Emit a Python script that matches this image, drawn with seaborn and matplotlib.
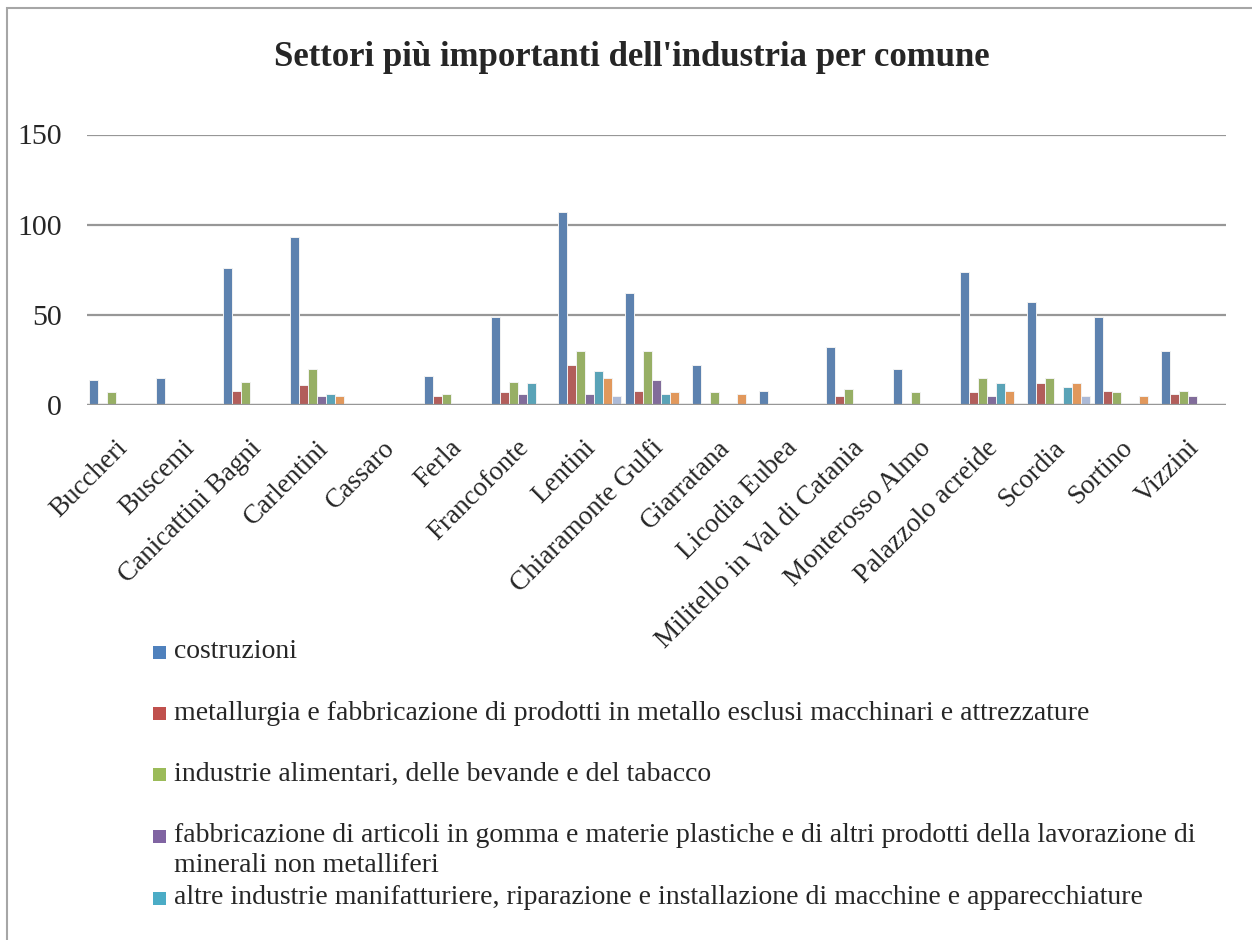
import numpy as np
import pandas as pd
import matplotlib
matplotlib.use("Agg")
import matplotlib.pyplot as plt
from matplotlib.patches import Rectangle
from matplotlib.transforms import ScaledTranslation
import seaborn as sns

# --- data -------------------------------------------------------------
comuni = [
    "Buccheri", "Buscemi", "Canicattini Bagni", "Carlentini", "Cassaro",
    "Ferla", "Francofonte", "Lentini", "Chiaramonte Gulfi", "Giarratana",
    "Licodia Eubea", "Militello in Val di Catania", "Monterosso Almo",
    "Palazzolo acreide", "Scordia", "Sortino", "Vizzini",
]

settori = [
    "costruzioni",
    "metallurgia e fabbricazione di prodotti in metallo esclusi macchinari e attrezzature",
    "industrie alimentari, delle bevande e del tabacco",
    "fabbricazione di articoli in gomma e materie plastiche e di altri prodotti della lavorazione di minerali non metalliferi",
    "altre industrie manifatturiere, riparazione e installazione di macchine e apparecchiature",
    "altro settore A",
    "altro settore B",
]

costruzioni = [14, 15, 76, 93, 0, 16, 49, 107, 62, 22, 8, 32, 20, 74, 57, 49, 30]
metallurgia = [0, 0, 8, 11, 0, 5, 7, 22, 8, 0, 0, 5, 0, 7, 12, 8, 6]
alimentari = [7, 0, 13, 20, 0, 6, 13, 30, 30, 7, 0, 9, 7, 15, 15, 7, 8]
gomma_plastica = [0, 0, 0, 5, 0, 0, 6, 6, 14, 0, 0, 0, 0, 5, 0, 0, 5]
altre_manifatturiere = [0, 0, 0, 6, 0, 0, 12, 19, 6, 0, 0, 0, 0, 12, 10, 0, 0]
settore_a = [0, 0, 0, 5, 0, 0, 0, 15, 7, 6, 0, 0, 0, 8, 12, 5, 0]
settore_b = [0, 0, 0, 0, 0, 0, 0, 5, 0, 0, 0, 0, 0, 0, 5, 0, 0]

y_ticks = [0, 50, 100, 150]

# legend lines as printed (only the first five sectors are listed)
legenda = [
    ["costruzioni"],
    ["metallurgia e fabbricazione di prodotti in metallo esclusi macchinari e attrezzature"],
    ["industrie alimentari, delle bevande e del tabacco"],
    ["fabbricazione di articoli in gomma e materie plastiche e di altri prodotti della lavorazione di",
     "minerali non metalliferi"],
    ["altre industrie manifatturiere, riparazione e installazione di macchine e apparecchiature"],
]

colori = ["#4F81BD", "#C0504D", "#9BBB59", "#8064A2", "#4BACC6", "#F79646", "#A5B8DE"]

serie = [costruzioni, metallurgia, alimentari, gomma_plastica,
         altre_manifatturiere, settore_a, settore_b]
df = pd.DataFrame({
    "comune": np.repeat([comuni], len(settori), axis=0).ravel(),
    "settore": np.repeat(settori, len(comuni)),
    "valore": np.concatenate(serie),
})

# --- figure -----------------------------------------------------------
sns.set_theme(style="white")
plt.rcParams["font.family"] = ["Liberation Serif", "DejaVu Serif"]

W, H = 1252, 940
fig = plt.figure(figsize=(W / 100, H / 100), dpi=100)
fig.patch.set_facecolor("white")

left, right, top, bottom = 87, 1226, 134.5, 405
ax = fig.add_axes([left / W, 1 - bottom / H, (right - left) / W, (bottom - top) / H])

grid_col = "#979797"
sns.barplot(data=df, x="comune", y="valore", hue="settore",
            order=comuni, hue_order=settori, palette=colori,
            width=0.94, errorbar=None, edgecolor="#F2F2F2", linewidth=0.7,
            ax=ax, zorder=2)

ax.set_ylim(0, 150)
ax.set_yticks(y_ticks)
ax.yaxis.grid(True, color=grid_col, linewidth=1.6)
ax.set_axisbelow(True)
ax.axhline(0, color=grid_col, linewidth=1.6, zorder=4)
for s in ax.spines.values():
    s.set_visible(False)
ax.tick_params(axis="both", length=0)
ax.tick_params(axis="y", pad=18, labelsize=21.5)
ax.tick_params(axis="x", pad=22, labelsize=19.5)
ax.set_xlabel("")
ax.set_ylabel("")
shift = ScaledTranslation(-6 / 100, 0, fig.dpi_scale_trans)
for lbl in ax.get_xticklabels():
    lbl.set_rotation(45)
    lbl.set_ha("right")
    lbl.set_va("top")
    lbl.set_rotation_mode("anchor")
    lbl.set_transform(lbl.get_transform() + shift)

if ax.get_legend() is not None:
    ax.get_legend().remove()

# title
fig.text(632 / W, 1 - 57 / H, "Settori più importanti dell'industria per comune",
         ha="center", va="center", fontsize=25, fontweight="bold")

# legend, one entry per row
entry_y = [652, 713, 774, 836, 898]
for lines, col, yc in zip(legenda, colori, entry_y):
    fig.patches.append(Rectangle((153 / W, 1 - (yc + 7) / H), 13 / W, 13 / H,
                                 transform=fig.transFigure, facecolor=col,
                                 edgecolor="none"))
    for k, line in enumerate(lines):
        fig.text(174 / W, 1 - (yc + k * 30) / H, line, ha="left",
                 va="center", fontsize=20)

# chart frame (continues past the right and bottom edges)
fig.patches.append(Rectangle((7 / W, -0.5), 2.0, 0.5 + 1 - 8 / H,
                             transform=fig.transFigure, fill=False,
                             edgecolor="#A6A6A6", linewidth=1.5))

fig.savefig("out.png", dpi=100, facecolor="white")
